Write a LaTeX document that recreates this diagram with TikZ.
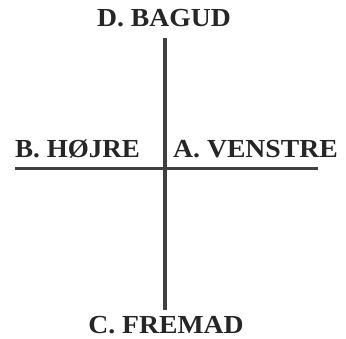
\documentclass[tikz,border=0pt]{standalone}
\usepackage{fontspec}
\setmainfont{Liberation Serif}
\begin{document}
\begin{tikzpicture}[x=1pt,y=-1pt,
  lbl/.style={inner sep=0pt,text depth=0pt,font=\fontsize{26}{26}\selectfont\bfseries,text=black!85},
  axis/.style={draw=black!75}]
\useasboundingbox (0,0) rectangle (346,339);
\node[lbl,anchor=base] (d) at (164,27) {\scalebox{1.065}[1]{D. BAGUD}};
\node[lbl,anchor=base] (c) at (166,334) {\scalebox{1.065}[1]{C. FREMAD}};
\node[lbl,anchor=base west] (b) at (15,158) {\scalebox{1.04}[1]{B. HØJRE}};
\node[lbl,anchor=base west] (a) at (173,158) {\scalebox{1.065}[1]{A. VENSTRE}};
\coordinate (top) at (165,38);
\coordinate (bot) at (165,310);
\coordinate (lft) at (15,169);
\coordinate (rgt) at (318,169);
\draw[axis,line width=4pt] (top) -- (bot);
\draw[axis,line width=3pt] (lft) -- (rgt);
\end{tikzpicture}
\end{document}
